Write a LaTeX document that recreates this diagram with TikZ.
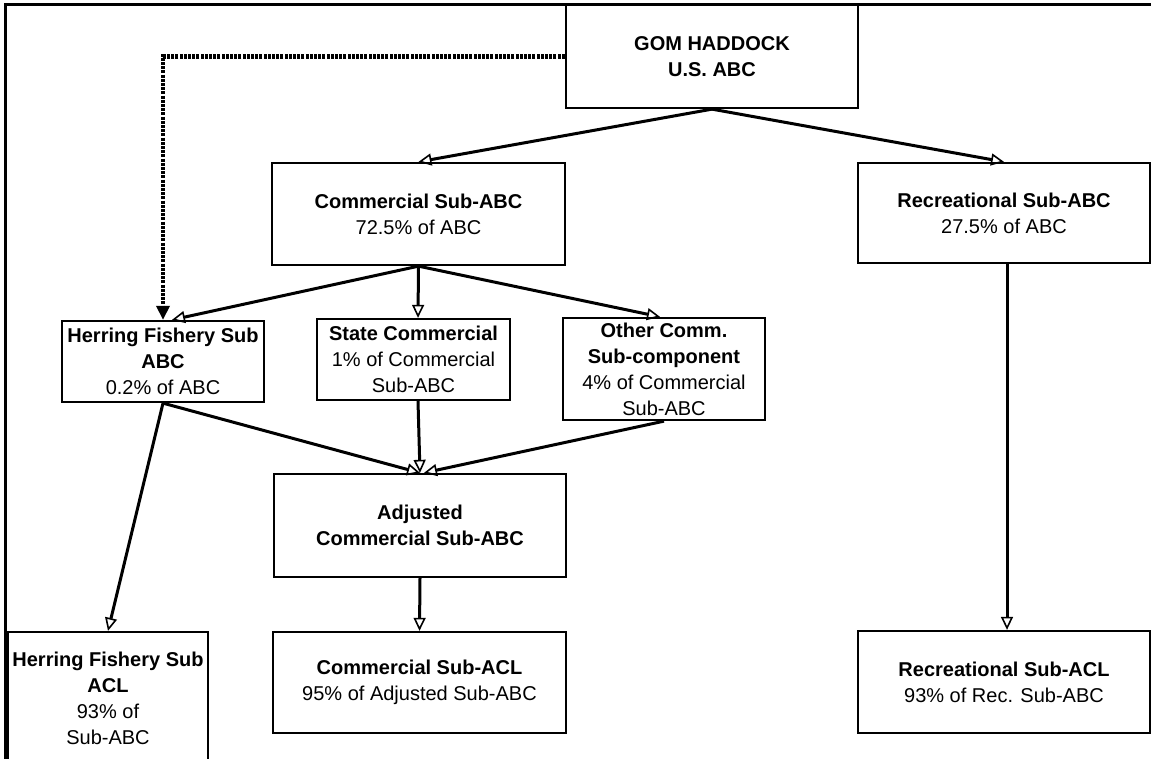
\documentclass[tikz,border=0pt]{standalone}
\usepackage{fontspec}
\setmainfont{Liberation Sans}
\usetikzlibrary{arrows.meta,calc}
\tikzset{
  box/.style={draw, line width=2.3pt, align=center, inner sep=0pt,
    font=\fontsize{20}{26}\selectfont},
  conn/.style={line width=3pt,
    -{Triangle[open,length=13pt,width=12pt,line width=1.6pt]}},
  dotconn/.style={line width=4.5pt, dash pattern=on 3pt off 1.2pt,
    -{Triangle[length=14pt,width=13pt]}},
  frameline/.style={line width=3pt}
}
\begin{document}
\begin{tikzpicture}[x=1pt,y=-1pt]
\useasboundingbox (0,0) rectangle (1151,759);
\clip (0,0) rectangle (1151,759);
\fill[white] (0,0) rectangle (1151,759);

% frame (cut off)
\coordinate (ftr) at (1160,4.5);
\coordinate (fcorner) at (5.5,4.5);
\coordinate (fbl) at (5.5,770);
\draw[frameline] (ftr) -- (fcorner) -- (fbl);

% boxes
\node[box, minimum width=292pt, minimum height=103pt] (gom) at (712,56.5)
  {\textbf{GOM HADDOCK}\\\textbf{U.S. ABC}};
\node[box, minimum width=293pt, minimum height=102pt] (com) at (418.5,214)
  {\textbf{Commercial Sub-ABC}\\72.5\% of ABC};
\node[box, minimum width=292pt, minimum height=100pt] (rec) at (1004,213)
  {\textbf{Recreational Sub-ABC}\\27.5\% of ABC};
\node[box, minimum width=202pt, minimum height=81pt] (hab) at (163,361.5)
  {\textbf{Herring Fishery Sub}\\\textbf{ABC}\\0.2\% of ABC};
\node[box, minimum width=193pt, minimum height=81pt] (st) at (413.5,359.5)
  {\textbf{State Commercial}\\1\% of Commercial\\Sub-ABC};
\node[box, minimum width=202pt, minimum height=102pt] (oth) at (664,369)
  {\textbf{Other Comm.}\\\textbf{Sub-component}\\4\% of Commercial\\Sub-ABC};
\node[box, minimum width=292pt, minimum height=103pt] (adj) at (420,525.5)
  {\textbf{Adjusted}\\\textbf{Commercial Sub-ABC}};
\node[box, minimum width=200pt, minimum height=132pt] (hacl) at (108,698)
  {\textbf{Herring Fishery Sub}\\\textbf{ACL}\\93\% of\\Sub-ABC};
\node[box, minimum width=293pt, minimum height=101pt] (cacl) at (419.5,682.5)
  {\textbf{Commercial Sub-ACL}\\95\% of Adjusted Sub-ABC};
\node[box, minimum width=292pt, minimum height=102pt] (racl) at (1004,682)
  {\textbf{Recreational Sub-ACL}\\93\% of Rec. Sub-ABC};

% connectors
\draw[dotconn] (gom.west) -| (hab.north);
\draw[conn] (gom.south) -- (com.north);
\draw[conn] (gom.south) -- (rec.north);
\draw[conn] (com.south) -- ($(hab.north)+(9,0)$);
\draw[conn] (com.south) -- ($(st.north)+(4.5,0)$);
\draw[conn] (com.south) -- ($(oth.north)+(-4,0)$);
\draw[conn] (hab.south) -- (adj.north);
\draw[conn] ($(st.south)+(4.5,0)$) -- (adj.north);
\draw[conn] (oth.south) -- ($(adj.north)+(4,0)$);
\draw[conn] (hab.south) -- (hacl.north);
\draw[conn] (adj.south) -- (cacl.north);
\draw[conn] ($(rec.south)+(3,0)$) -- ($(racl.north)+(3,0)$);
\end{tikzpicture}
\end{document}
